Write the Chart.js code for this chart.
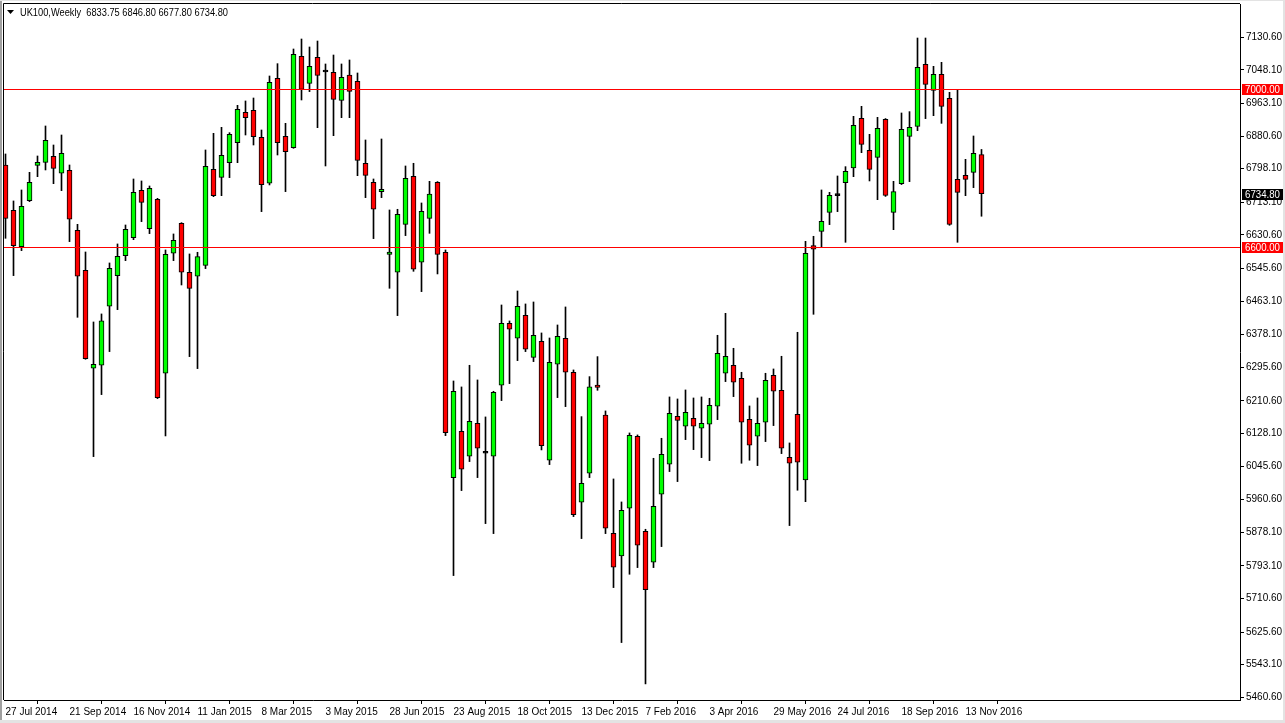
<!DOCTYPE html>
<html>
<head>
<meta charset="utf-8">
<title>UK100 Weekly</title>
<script src="https://cdn.jsdelivr.net/npm/chart.js@4/dist/chart.umd.min.js"></script>
<style>
  html, body { margin: 0; padding: 0; background: #fff; overflow: hidden; }
  canvas { display: block; }
</style>
</head>
<body>
<canvas id="c" width="1285" height="723" style="width:1285px;height:723px"></canvas>
<script>
// weekly candles, 27 Jul 2014 .. 27 Nov 2016 (index = week number)
const opens = [
  6807.5, 6692.8, 6600.9, 6717.3, 6806.7, 6814.3, 6829.5, 6786.5, 6794.1, 6642.2,
  6541.1, 6293.1, 6300.7, 6450.0, 6527.6, 6578.2, 6623.7, 6743.4, 6646.5, 6720.7,
  6280.5, 6584.1, 6660.0, 6536.0, 6525.9, 6553.7, 6796.6, 6776.3, 6813.4, 6864.0,
  6940.8, 6945.8, 6877.5, 6761.2, 7026.8, 6880.1, 6851.4, 7082.5, 7014.1, 7079.9,
  7042.8, 7042.0, 6971.1, 7035.2, 7019.2, 6811.8, 6763.7, 6740.1, 6581.5, 6536.0,
  6657.4, 6778.9, 6561.3, 6672.6, 6763.7, 6586.6, 6016.5, 6133.7, 6070.5, 6154.0,
  6078.1, 6070.5, 6250.1, 6407.0, 6369.0, 6427.2, 6320.9, 6361.4, 6060.4, 6303.2,
  6369.0, 6283.0, 5954.1, 6027.5, 6250.9, 6175.0, 5875.7, 5818.3, 5938.9, 6121.1,
  5880.7, 5802.3, 5974.4, 6050.2, 6171.7, 6146.4, 6166.6, 6141.3, 6151.4, 6197.0,
  6280.5, 6300.7, 6267.8, 6164.1, 6121.1, 6156.5, 6275.4, 6237.4, 6067.9, 6176.7,
  6010.6, 6603.5, 6639.7, 6687.8, 6729.9, 6762.9, 6800.0, 6925.6, 6844.6, 6826.9,
  6923.1, 6687.8, 6760.3, 6880.1, 6905.4, 7062.2, 6996.4, 7036.9, 6976.2, 6771.3,
  6781.4, 6789.0, 6833.75
];
const highs = [
  6835.4, 6716.5, 6744.3, 6789.0, 6830.3, 6906.2, 6858.1, 6883.4, 6807.5, 6657.4,
  6587.4, 6410.3, 6430.6, 6559.6, 6607.7, 6655.7, 6772.1, 6767.1, 6754.4, 6723.2,
  6592.5, 6633.0, 6661.6, 6582.4, 6586.6, 6845.5, 6887.6, 6902.8, 6889.3, 6958.5,
  6969.5, 6977.0, 6896.1, 7032.7, 7063.9, 6912.9, 7101.0, 7126.3, 7106.1, 7121.2,
  7063.1, 7085.8, 7063.1, 7073.2, 7040.3, 6870.8, 6772.1, 6873.3, 6693.7, 6695.4,
  6805.0, 6811.8, 6711.4, 6766.2, 6765.5, 6592.5, 6261.0, 6245.9, 6300.7, 6263.6,
  6170.0, 6234.9, 6453.3, 6412.9, 6488.7, 6455.9, 6460.9, 6382.5, 6369.8, 6402.7,
  6448.3, 6288.9, 6170.8, 6272.0, 6322.6, 6185.2, 6013.1, 5954.9, 6129.5, 6124.5,
  5885.8, 6065.4, 6116.0, 6220.6, 6215.5, 6238.3, 6218.0, 6220.6, 6217.2, 6376.6,
  6432.2, 6343.7, 6283.0, 6197.8, 6218.0, 6280.5, 6291.4, 6323.5, 6104.2, 6384.2,
  6614.4, 6627.1, 6744.3, 6738.4, 6779.7, 6803.3, 6930.7, 6955.9, 6885.1, 6928.1,
  6925.0, 6766.2, 6939.1, 6942.5, 7128.8, 7128.8, 7057.2, 7067.3, 6991.4, 6999.0,
  6821.9, 6880.9, 6846.80
];
const lows = [
  6622.0, 6527.6, 6590.8, 6714.8, 6778.0, 6794.9, 6760.3, 6742.6, 6613.6, 6422.1,
  6315.9, 6069.6, 6226.5, 6335.3, 6441.5, 6565.5, 6618.6, 6664.2, 6633.8, 6216.4,
  6121.9, 6565.5, 6503.9, 6322.6, 6292.3, 6545.3, 6727.4, 6729.9, 6775.5, 6813.4,
  6883.4, 6858.1, 6689.5, 6757.0, 6832.8, 6740.1, 6849.7, 6972.0, 6993.1, 6902.0,
  6805.0, 6881.7, 6927.3, 6927.3, 6780.5, 6724.9, 6621.2, 6724.9, 6495.5, 6426.4,
  6628.8, 6538.5, 6487.1, 6634.6, 6531.8, 6122.7, 5768.6, 5983.6, 6057.0, 6016.5,
  5900.1, 5874.8, 6211.3, 6254.3, 6312.5, 6335.3, 6310.0, 6086.5, 6049.4, 6218.9,
  6196.1, 5917.8, 5862.2, 6016.5, 6237.4, 5874.8, 5738.2, 5599.1, 5771.9, 5788.8,
  5494.5, 5788.8, 5841.9, 6031.7, 6006.4, 6112.6, 6087.3, 6067.1, 6059.5, 6163.2,
  6259.4, 6221.4, 6052.8, 6060.4, 6046.9, 6107.6, 6148.1, 6077.2, 5895.1, 5984.5,
  5955.8, 6429.7, 6599.2, 6656.6, 6689.5, 6611.9, 6778.0, 6838.7, 6767.1, 6719.8,
  6728.0, 6643.9, 6758.0, 6765.4, 6894.4, 6924.8, 6932.3, 6912.9, 6654.9, 6611.9,
  6729.9, 6750.2, 6677.80
];
const closes = [
  6672.6, 6603.5, 6703.0, 6763.7, 6814.3, 6869.9, 6799.1, 6837.1, 6670.1, 6525.9,
  6317.6, 6303.3, 6412.9, 6546.1, 6576.5, 6644.8, 6738.4, 6713.1, 6748.5, 6218.9,
  6581.5, 6616.9, 6536.0, 6495.5, 6575.6, 6804.2, 6729.9, 6832.0, 6885.1, 6948.4,
  6927.3, 6879.2, 6757.8, 7016.7, 6864.0, 6841.3, 7087.5, 6999.0, 7057.1, 7034.4,
  7042.8, 6973.7, 7029.3, 6993.9, 6819.3, 6781.4, 6695.4, 6746.0, 6587.4, 6682.7,
  6773.8, 6543.6, 6690.3, 6734.1, 6581.5, 6130.3, 6234.9, 6037.6, 6159.0, 6090.7,
  6078.1, 6232.4, 6407.0, 6391.8, 6449.9, 6341.2, 6376.6, 6097.4, 6308.3, 6374.1,
  6283.0, 5922.9, 6002.2, 6245.9, 6245.0, 5888.3, 5789.7, 5933.9, 6123.6, 5845.3,
  5733.1, 5944.0, 6075.5, 6179.3, 6161.5, 6181.8, 6146.4, 6153.9, 6199.5, 6331.0,
  6323.5, 6257.7, 6156.5, 6098.3, 6153.9, 6262.7, 6235.0, 6090.7, 6052.8, 6055.3,
  6584.1, 6594.2, 6665.0, 6730.8, 6729.9, 6791.5, 6907.9, 6859.8, 6796.6, 6900.3,
  6730.8, 6740.1, 6897.8, 6902.8, 7054.6, 7011.5, 7036.9, 6956.0, 6657.4, 6738.4,
  6771.3, 6837.1, 6734.80
];

// date labels under every 8th weekly bar
const xTickIdx = [0, 8, 16, 24, 32, 40, 48, 56, 64, 72, 80, 88, 96, 104, 112, 120];
const xLabels = ['27 Jul 2014', '21 Sep 2014', '16 Nov 2014', '11 Jan 2015', '8 Mar 2015', '3 May 2015',
  '28 Jun 2015', '23 Aug 2015', '18 Oct 2015', '13 Dec 2015', '7 Feb 2016', '3 Apr 2016',
  '29 May 2016', '24 Jul 2016', '18 Sep 2016', '13 Nov 2016'];

// price scale labels as MT4 printed them
const yTicks = [7130.60, 7048.10, 6963.10, 6880.60, 6798.10, 6713.10, 6630.60, 6545.60, 6463.10,
  6378.10, 6295.60, 6210.60, 6128.10, 6045.60, 5960.60, 5878.10, 5793.10, 5710.60, 5625.60,
  5543.10, 5460.60];

// horizontal levels
const levels = [7000, 6600];

const symbolName = 'UK100,Weekly';
const FONT = "'Liberation Sans', Arial, sans-serif";

let bodies = [], wicks = [], bodyColors = [];
opens.forEach((o, i) => {
    let c = closes[i];
    bodies.push({x: i, y: [Math.min(o, c), Math.max(o, c)]});
    wicks.push({x: i, y: [lows[i], highs[i]]});
    bodyColors.push(c > o ? '#00ff00' : (c < o ? '#ff0000' : '#000000'));
});

const last = opens.length - 1;

const mtPlugin = {
    id: 'mt4',
    beforeDraw(chart) {
        let ctx = chart.ctx;
        ctx.save();
        ctx.fillStyle = '#ffffff';
        ctx.fillRect(0, 0, chart.width, chart.height);
        // window edges
        ctx.fillStyle = '#a0a0a0';
        ctx.fillRect(0, 0, 2, chart.height);
        ctx.fillStyle = '#e3e3e3';
        ctx.fillRect(0, chart.height - 3, chart.width, 3);
        ctx.fillRect(chart.width - 2, 0, 2, chart.height);
        ctx.fillRect(0, 0, chart.width, 1);
        ctx.restore();
    },
    afterDatasetsDraw(chart) {
        let ctx = chart.ctx;
        let area = chart.chartArea;
        let yScale = chart.scales.y;
        ctx.save();
        ctx.strokeStyle = '#ff0000';
        ctx.lineWidth = 1;
        levels.forEach(lv => {
            let py = Math.round(yScale.getPixelForValue(lv)) + 0.5;
            ctx.beginPath();
            ctx.moveTo(area.left, py);
            ctx.lineTo(area.right, py);
            ctx.stroke();
        });
        ctx.restore();
    },
    afterDraw(chart) {
        let ctx = chart.ctx;
        let area = chart.chartArea;
        let yScale = chart.scales.y;
        ctx.save();
        // frame left and top
        ctx.strokeStyle = '#000000';
        ctx.lineWidth = 1;
        ctx.beginPath();
        ctx.moveTo(area.left - 0.5, area.bottom);
        ctx.lineTo(area.left - 0.5, area.top - 0.5);
        ctx.lineTo(area.right, area.top - 0.5);
        ctx.stroke();

        // price boxes on the axis
        ctx.font = '11px ' + FONT;
        ctx.textBaseline = 'middle';
        ctx.textAlign = 'left';
        let boxes = levels.map(lv => ({v: lv, bg: '#ff0000'}));
        boxes.push({v: closes[last], bg: '#000000'});
        boxes.forEach(b => {
            let py = Math.round(yScale.getPixelForValue(b.v));
            ctx.fillStyle = b.bg;
            ctx.fillRect(area.right + 2, py - 5, 41, 11);
            ctx.fillStyle = '#ffffff';
            ctx.fillText(b.v.toFixed(2), area.right + 5, py + 0.5, 35);
        });

        // header
        ctx.fillStyle = '#000000';
        ctx.beginPath();
        ctx.moveTo(7, 10);
        ctx.lineTo(14, 10);
        ctx.lineTo(10.5, 14);
        ctx.closePath();
        ctx.fill();
        let header = symbolName + '  ' + opens[last].toFixed(2) + ' ' + highs[last].toFixed(2) + ' ' +
            lows[last].toFixed(2) + ' ' + closes[last].toFixed(2);
        ctx.fillText(header, 20, 12.5, 208);
        ctx.restore();
    }
};

let ctx = document.getElementById('c').getContext('2d');
let xMin = -0.1875;
new Chart(ctx, {
    type: 'bar',
    data: {
        datasets: [{
            label: 'body',
            data: bodies,
            backgroundColor: bodyColors,
            borderColor: '#000000',
            borderWidth: 1,
            borderSkipped: false,
            barThickness: 5,
            minBarLength: 2,
            grouped: false,
            order: 0
        }, {
            label: 'wick',
            data: wicks,
            backgroundColor: '#000000',
            borderWidth: 0,
            barThickness: 1,
            grouped: false,
            order: 1
        }]
    },
    options: {
        responsive: false,
        animation: false,
        layout: { padding: { left: 4, top: 4, right: 0, bottom: 0 } },
        plugins: { legend: { display: false }, tooltip: { enabled: false } },
        scales: {
            x: {
                type: 'linear',
                min: xMin,
                max: xMin + 154.5,
                offset: false,
                grid: { drawOnChartArea: false, tickLength: 4, color: '#000000' },
                border: { color: '#000000' },
                ticks: {
                    autoSkip: false,
                    maxRotation: 0,
                    align: 'start',
                    padding: 2,
                    color: '#000000',
                    font: { family: FONT, size: 10 },
                    callback: v => xLabels[xTickIdx.indexOf(v)]
                },
                afterBuildTicks: s => { s.ticks = xTickIdx.map(v => ({value: v})); },
                afterFit: s => { s.height = 23; s.paddingLeft = 0; s.paddingRight = 0; }
            },
            y: {
                position: 'right',
                min: 5453.76,
                max: 7214.86,
                grid: { drawOnChartArea: false, tickLength: 4, color: '#000000' },
                border: { color: '#000000' },
                ticks: {
                    autoSkip: false,
                    padding: 2,
                    color: '#000000',
                    font: { family: FONT, size: 10 },
                    callback: v => v.toFixed(2)
                },
                afterBuildTicks: s => { s.ticks = yTicks.map(v => ({value: v})); },
                afterFit: s => { s.width = 45; s.paddingTop = 0; s.paddingBottom = 0; }
            }
        }
    },
    plugins: [mtPlugin]
});
</script>
</body>
</html>
